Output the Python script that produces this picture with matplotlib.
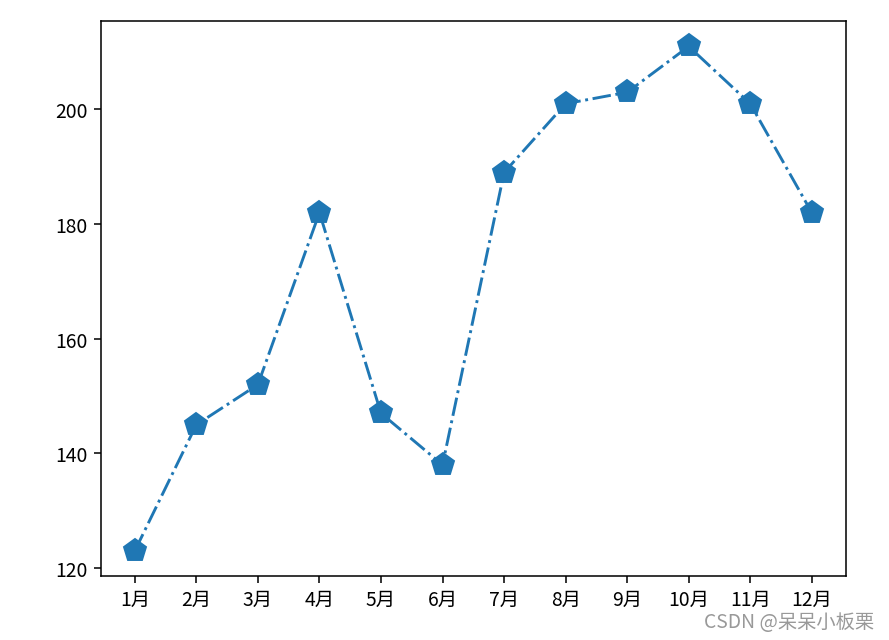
import matplotlib.pyplot as plt

# month labels and values
months = ['1月', '2月', '3月', '4月', '5月', '6月', '7月', '8月', '9月', '10月', '11月', '12月']
values = [123, 145, 152, 182, 147, 138, 189, 201, 203, 211, 201, 182]

plt.rcParams['font.family'] = ['Noto Sans CJK SC', 'DejaVu Sans']

fig = plt.figure(figsize=(6.4, 4.61), dpi=139)
ax = fig.add_axes([0.1135, 0.0998, 0.8371, 0.8659])

ax.plot(months, values, linestyle='-.', marker='p', markersize=12, color='#1f77b4')
ax.set_yticks([120, 140, 160, 180, 200])

# watermark in the lower right corner
fig.text(0.983, 0.012, 'CSDN @呆呆小板栗', ha='right', va='bottom', color='#999999', fontsize=10)

plt.savefig('out.png', dpi=139)
